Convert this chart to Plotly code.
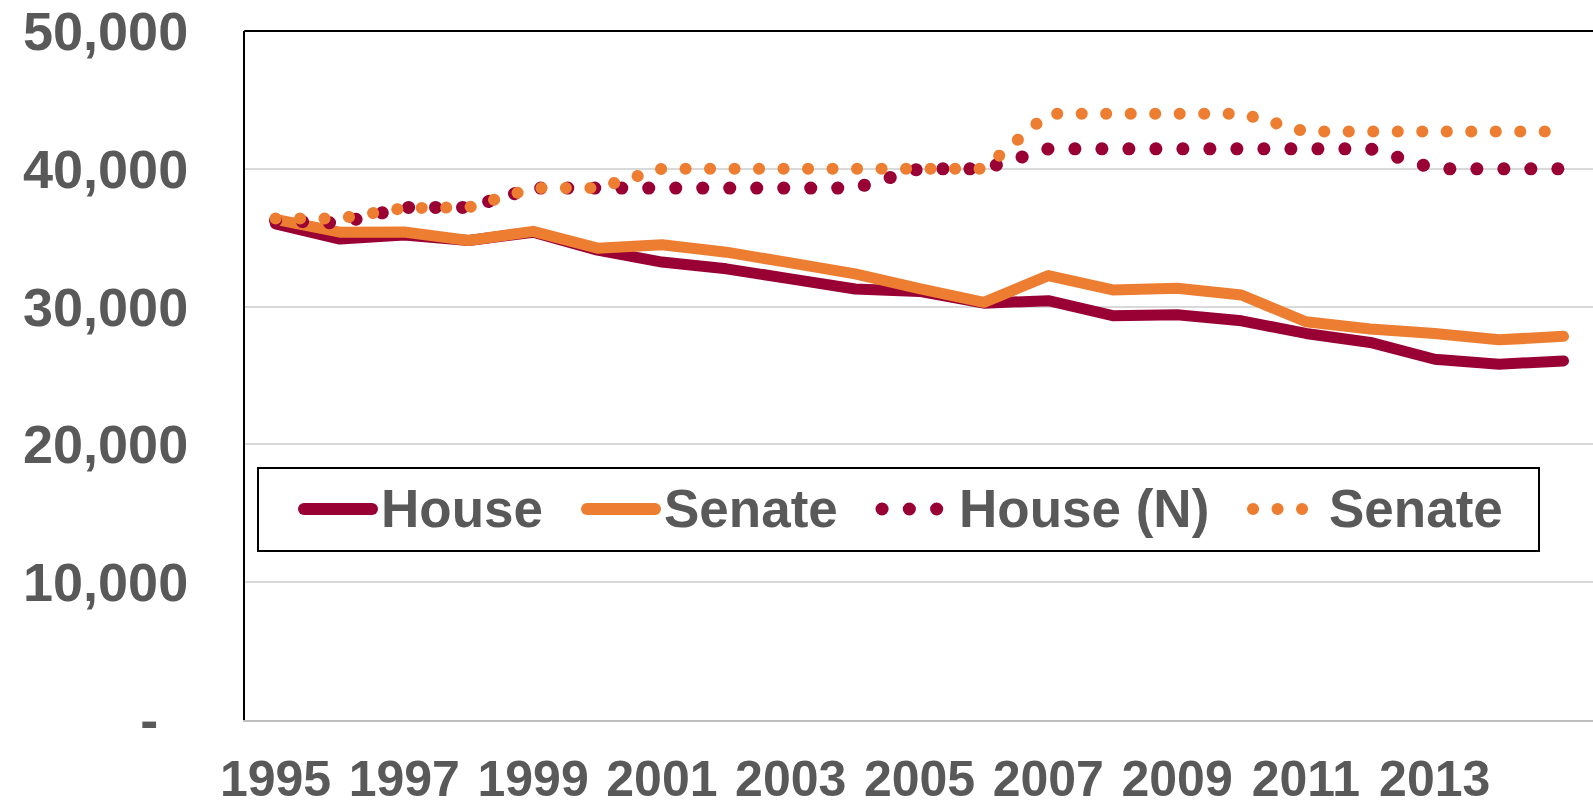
import plotly.graph_objects as go

# ---------------- data ----------------
years = list(range(1995, 2016))
house = [36000, 34900, 35200, 34800, 35400, 34100, 33230, 32740, 32010, 31280, 31100,
         30250, 30430, 29340, 29410, 28970, 28050, 27400, 26180, 25820, 26060]
senate = [36330, 35400, 35410, 34800, 35460, 34240, 34490, 33950, 33170, 32370, 31300,
          30310, 32250, 31210, 31330, 30840, 28900, 28370, 28050, 27590, 27840]
house_n = [36250, 36050, 37200, 37200, 38600, 38600, 38600, 38600, 38600, 38600, 40000,
           40000, 41450, 41450, 41450, 41450, 41450, 41450, 40000, 40000, 40000]
senate_n = [36400, 36400, 37150, 37200, 38600, 38600, 40000, 40000, 40000, 40000, 40000,
            40000, 44000, 44000, 44000, 44000, 42700, 42700, 42700, 42700, 42700]

x_tick_years = list(range(1995, 2014, 2))
y_ticks = [0, 10000, 20000, 30000, 40000, 50000]
y_tick_text = ["-\u00a0\u00a0", "10,000", "20,000", "30,000", "40,000", "50,000"]
legend_labels = ["House", "Senate", "House (N)", "Senate"]

# ---------------- style ----------------
C_HOUSE = "#990033"
C_SENATE = "#ED7D31"
C_TEXT = "#595959"
FONT = "Liberation Sans, Arial, sans-serif"

W, H = 1593, 804
L, T, B, R = 245, 31, 84, 0
PW = W - L - R
PH = H - T - B


def px(x):
    return (x - L) / PW


def py(y):
    return (H - B - y) / PH


fig = go.Figure()
fig.add_trace(go.Scatter(x=years, y=house, mode="lines", name=legend_labels[0],
                         line=dict(color=C_HOUSE, width=11)))
fig.add_trace(go.Scatter(x=years, y=senate, mode="lines", name=legend_labels[1],
                         line=dict(color=C_SENATE, width=11)))
fig.add_trace(go.Scatter(x=years, y=house_n, mode="lines", name=legend_labels[2],
                         line=dict(color=C_HOUSE, width=13, dash="0.1px,26.9px")))
fig.add_trace(go.Scatter(x=years, y=senate_n, mode="lines", name=legend_labels[3],
                         line=dict(color=C_SENATE, width=12, dash="0.1px,24.4px")))

x0 = 1995 - 30.5 / 64.4
x1 = 1995 + (W - R - 275.5) / 64.4

fig.update_layout(
    width=W, height=H,
    margin=dict(l=L, r=R, t=T, b=B, pad=0, autoexpand=False),
    paper_bgcolor="white", plot_bgcolor="white",
    showlegend=False,
    font=dict(family=FONT, color=C_TEXT),
    xaxis=dict(range=[x0, x1], tickvals=x_tick_years, ticktext=[str(v) for v in x_tick_years],
               showgrid=False, zeroline=False, showline=True, linecolor="#BFBFBF", linewidth=2,
               ticks="", ticklabelstandoff=14, automargin=False,
               tickfont=dict(family=FONT, size=50, color=C_TEXT, weight="bold")),
    yaxis=dict(range=[0, 50000], tickvals=y_ticks, ticktext=y_tick_text,
               showgrid=True, gridcolor="#D9D9D9", gridwidth=2, zeroline=False,
               showline=True, linecolor="black", linewidth=2,
               ticks="", ticklabelstandoff=44, automargin=False,
               tickfont=dict(family=FONT, size=54, color=C_TEXT, weight="bold")),
)

shapes = []
# top border of plot area
shapes.append(dict(type="line", xref="paper", yref="paper", x0=0, x1=1, y0=1, y1=1,
                   line=dict(color="black", width=2)))
# legend box
shapes.append(dict(type="rect", xref="paper", yref="paper",
                   x0=px(258), x1=px(1539), y0=py(551), y1=py(468),
                   line=dict(color="black", width=2), fillcolor="white"))
ly = py(509)
shapes.append(dict(type="line", xref="paper", yref="paper", x0=px(304), x1=px(372), y0=ly, y1=ly,
                   line=dict(color=C_HOUSE, width=12)))
shapes.append(dict(type="line", xref="paper", yref="paper", x0=px(587), x1=px(655), y0=ly, y1=ly,
                   line=dict(color=C_SENATE, width=12)))
shapes.append(dict(type="line", xref="paper", yref="paper", x0=px(882), x1=px(937), y0=ly, y1=ly,
                   line=dict(color=C_HOUSE, width=13, dash="0.1px,27.2px")))
shapes.append(dict(type="line", xref="paper", yref="paper", x0=px(1253), x1=px(1303), y0=ly, y1=ly,
                   line=dict(color=C_SENATE, width=12, dash="0.1px,24.4px")))
fig.update_layout(shapes=shapes)

text_x = [379, 662, 957, 1327]
for lbl, tx in zip(legend_labels, text_x):
    fig.add_annotation(x=px(tx), y=ly, xref="paper", yref="paper", xanchor="left", yanchor="middle",
                       text=lbl, showarrow=False,
                       font=dict(family=FONT, size=53, color=C_TEXT, weight="bold"))

post = """
var s=document.createElement('style');
s.innerHTML='body{margin:0 !important;} .js-line{stroke-linecap:round !important;stroke-linejoin:round !important;} .shapelayer path{stroke-linecap:round !important;}';
document.head.appendChild(s);
"""

fig.write_html("out.html", post_script=post, config={"displayModeBar": False})
